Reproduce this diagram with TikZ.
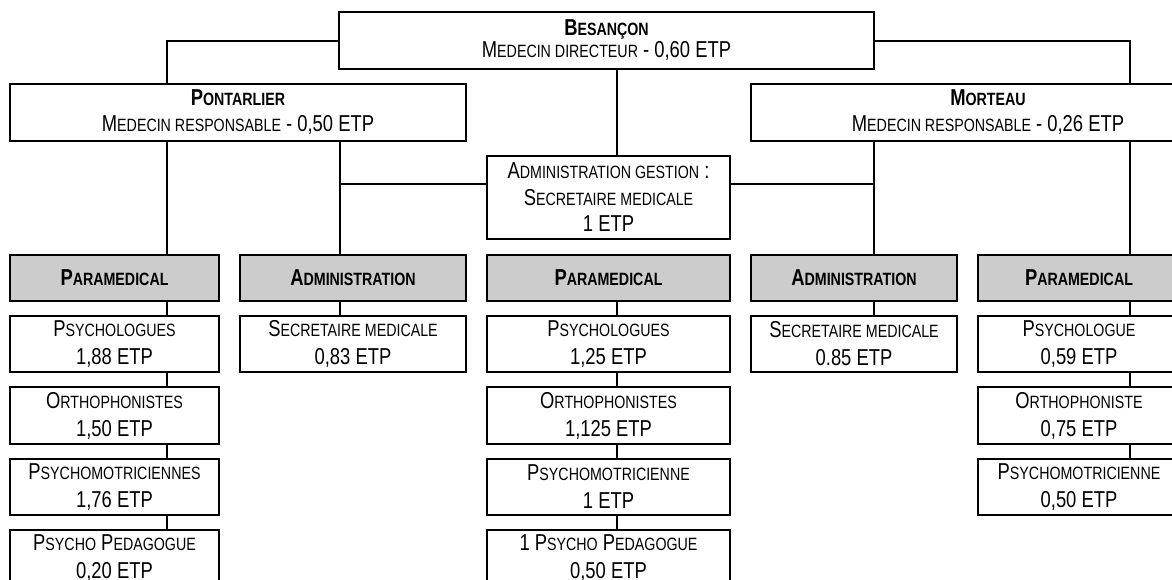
\documentclass[tikz,border=0pt]{standalone}
\usepackage{fontspec}
\setmainfont[FakeStretch=0.80]{Liberation Sans}
\definecolor{hdrgray}{RGB}{204,204,204}
\newcommand\lc[1]{{\fontsize{17.8}{17.8}\selectfont #1}}
\tikzset{
  box/.style={draw, line width=2pt, fill=white, inner sep=0pt, align=center,
              font=\fontsize{23}{28}\selectfont},
  hdr/.style={box, fill=hdrgray, font=\bfseries\fontsize{23}{28}\selectfont},
  conn/.style={line width=2pt}
}
\begin{document}
\begin{tikzpicture}[x=1pt,y=-1pt]
\useasboundingbox (0,0) rectangle (1172,579);
\clip (0,0) rectangle (1172,579);
\fill[white] (0,0) rectangle (1172,579);
% connector x positions
\coordinate (X1) at (167,0);
\coordinate (X2) at (340,0);
\coordinate (X3) at (617,0);
\coordinate (X4) at (874,0);
\coordinate (X5) at (1130,0);
\coordinate (H1) at (0,184);
% top level
\node[box, minimum width=535pt, minimum height=57pt, font=\fontsize{23}{22}\selectfont] (bes) at (606.5,40.5)
  {{\bfseries B\lc{ESANÇON}}\\M\lc{EDECIN DIRECTEUR} - 0,60 ETP};
\node[box, minimum width=456pt, minimum height=57pt, font=\fontsize{23}{26}\selectfont] (pon) at (238,112.5)
  {{\bfseries P\lc{ONTARLIER}}\\M\lc{EDECIN RESPONSABLE} - 0,50 ETP};
\node[box, minimum width=474pt, minimum height=57pt, font=\fontsize{23}{26}\selectfont] (mor) at (988,112.5)
  {{\bfseries M\lc{ORTEAU}}\\M\lc{EDECIN RESPONSABLE} - 0,26 ETP};
\node[box, minimum width=243pt, minimum height=83pt, font=\fontsize{23}{26.5}\selectfont] (adg) at (608.5,197.5)
  {A\lc{DMINISTRATION GESTION} :\\S\lc{ECRETAIRE MEDICALE}\\1 ETP};
% headers
\node[hdr, minimum width=209pt, minimum height=46pt] (p1) at (114.5,278) {P\lc{ARAMEDICAL}};
\node[hdr, minimum width=226pt, minimum height=46pt] (a1) at (353,278) {A\lc{DMINISTRATION}};
\node[hdr, minimum width=243pt, minimum height=46pt] (p2) at (608.5,278) {P\lc{ARAMEDICAL}};
\node[hdr, minimum width=206pt, minimum height=46pt] (a2) at (854,278) {A\lc{DMINISTRATION}};
\node[hdr, minimum width=202pt, minimum height=46pt] (p3) at (1079,278) {P\lc{ARAMEDICAL}};
% column 1
\node[box, minimum width=209pt, minimum height=56pt] (c1r1) at (114.5,344) {P\lc{SYCHOLOGUES}\\1,88 ETP};
\node[box, minimum width=209pt, minimum height=57pt] (c1r2) at (114.5,415.5) {O\lc{RTHOPHONISTES}\\1,50 ETP};
\node[box, minimum width=209pt, minimum height=56pt] (c1r3) at (114.5,487) {P\lc{SYCHOMOTRICIENNES}\\1,76 ETP};
\node[box, minimum width=209pt, minimum height=56pt] (c1r4) at (114.5,558) {P\lc{SYCHO} P\lc{EDAGOGUE}\\0,20 ETP};
% column 2
\node[box, minimum width=226pt, minimum height=56pt] (c2r1) at (353,344) {S\lc{ECRETAIRE MEDICALE}\\0,83 ETP};
% column 3
\node[box, minimum width=243pt, minimum height=56pt] (c3r1) at (608.5,344) {P\lc{SYCHOLOGUES}\\1,25 ETP};
\node[box, minimum width=243pt, minimum height=57pt] (c3r2) at (608.5,415.5) {O\lc{RTHOPHONISTES}\\1,125 ETP};
\node[box, minimum width=243pt, minimum height=56pt] (c3r3) at (608.5,487) {P\lc{SYCHOMOTRICIENNE}\\1 ETP};
\node[box, minimum width=243pt, minimum height=56pt] (c3r4) at (608.5,558) {1 P\lc{SYCHO} P\lc{EDAGOGUE}\\0,50 ETP};
% column 4
\node[box, minimum width=206pt, minimum height=56pt] (c4r1) at (854,344) {S\lc{ECRETAIRE MEDICALE}\\0.85 ETP};
% column 5
\node[box, minimum width=202pt, minimum height=56pt] (c5r1) at (1079,344) {P\lc{SYCHOLOGUE}\\0,59 ETP};
\node[box, minimum width=202pt, minimum height=57pt] (c5r2) at (1079,415.5) {O\lc{RTHOPHONISTE}\\0,75 ETP};
\node[box, minimum width=202pt, minimum height=56pt] (c5r3) at (1079,487) {P\lc{SYCHOMOTRICIENNE}\\0,50 ETP};
% connectors
\draw[conn] (bes.west) -| (X1 |- pon.north);
\draw[conn] (bes.east) -| (X5 |- mor.north);
\draw[conn] (X3 |- bes.south) -- (X3 |- adg.north);
\draw[conn] (X1 |- pon.south) -- (X1 |- p1.north);
\draw[conn] (X2 |- pon.south) -- (X2 |- a1.north);
\draw[conn] (X4 |- mor.south) -- (X4 |- a2.north);
\draw[conn] (X5 |- mor.south) -- (X5 |- p3.north);
\draw[conn] (adg.west |- H1) -- (X2 |- H1);
\draw[conn] (adg.east |- H1) -- (X4 |- H1);
\draw[conn] (X1 |- p1.south) -- (X1 |- c1r1.north);
\draw[conn] (X1 |- c1r1.south) -- (X1 |- c1r2.north);
\draw[conn] (X1 |- c1r2.south) -- (X1 |- c1r3.north);
\draw[conn] (X1 |- c1r3.south) -- (X1 |- c1r4.north);
\draw[conn] (X2 |- a1.south) -- (X2 |- c2r1.north);
\draw[conn] (X3 |- p2.south) -- (X3 |- c3r1.north);
\draw[conn] (X3 |- c3r1.south) -- (X3 |- c3r2.north);
\draw[conn] (X3 |- c3r2.south) -- (X3 |- c3r3.north);
\draw[conn] (X3 |- c3r3.south) -- (X3 |- c3r4.north);
\draw[conn] (X4 |- a2.south) -- (X4 |- c4r1.north);
\draw[conn] (X5 |- p3.south) -- (X5 |- c5r1.north);
\draw[conn] (X5 |- c5r1.south) -- (X5 |- c5r2.north);
\draw[conn] (X5 |- c5r2.south) -- (X5 |- c5r3.north);
\end{tikzpicture}
\end{document}
